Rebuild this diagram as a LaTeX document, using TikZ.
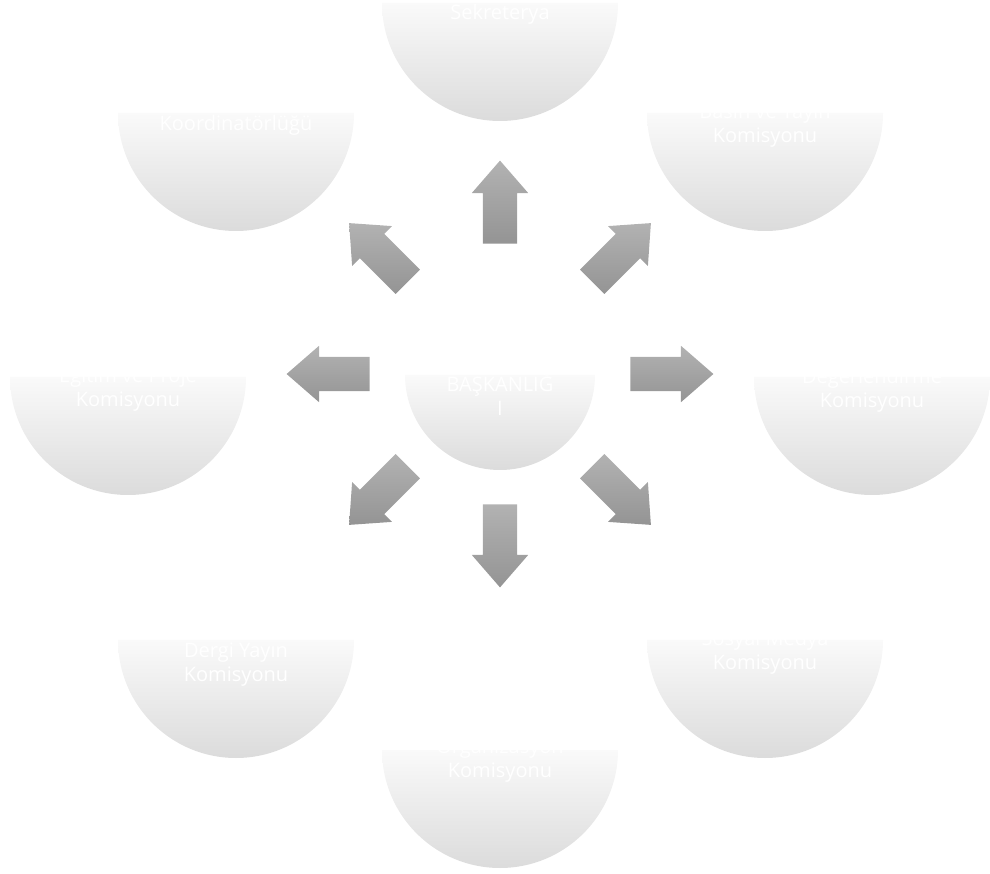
\documentclass[tikz,border=0pt]{standalone}
\usepackage{fontspec}
\setmainfont{Open Sans}
\usetikzlibrary{shapes.arrows}
\tikzset{
  discfill/.style={top color=black!2, bottom color=black!14, draw=none},
  blockarrow/.style={single arrow, draw=none, inner xsep=0pt, inner ysep=17pt,
    minimum height=83pt, single arrow head extend=11pt, single arrow tip angle=82,
    top color={rgb,255:red,178;green,178;blue,178}, bottom color={rgb,255:red,148;green,148;blue,148}},
  lbl/.style={text=white, align=center, font=\fontsize{20}{24}\selectfont, inner sep=0pt}
}
\newcommand\halfdisc[3]{\path[discfill] ({#1-#3},#2) arc[start angle=180,end angle=360,radius=#3] -- cycle;}
\begin{document}
\begin{tikzpicture}[x=1pt,y=1pt]
\useasboundingbox (0,0) rectangle (990,873);
% half discs
\halfdisc{500}{870}{118}
\halfdisc{236}{760}{118}
\halfdisc{765}{760}{118}
\halfdisc{128}{496}{118}
\halfdisc{500}{498}{95}
\halfdisc{872}{496}{118}
\halfdisc{236}{233}{118}
\halfdisc{765}{233}{118}
\halfdisc{500}{123}{118}
% labels
\node[lbl] (t) at (500,859) {Sekreterya};
\node[lbl] (tl) at (236,748) {Koordinatörlüğü};
\node[lbl] (tr) at (765,747.5) {Basın ve Yayın\\Komisyonu};
\node[lbl] (l) at (128,483) {Eğitim ve Proje\\Komisyonu};
\node[lbl] (c) at (500,479) {BAŞKANLIĞ\\I};
\node[lbl] (r) at (872,483) {Değerlendirme\\Komisyonu};
\node[lbl] (bl) at (236,208.5) {Dergi Yayın\\Komisyonu};
\node[lbl] (br) at (765,221) {Sosyal Medya\\Komisyonu};
\node[lbl] (b) at (500,112) {Organizasyon\\Komisyonu};
% arrows
\coordinate (o) at (500,499);
\foreach \a/\n in {90/an,45/ane,0/ae,-45/ase,-90/as,-135/asw,180/aw,135/anw}{
  \node[blockarrow, rotate=\a] (\n) at ([shift={(\a:162)}]o) {};
}
\end{tikzpicture}
\end{document}
